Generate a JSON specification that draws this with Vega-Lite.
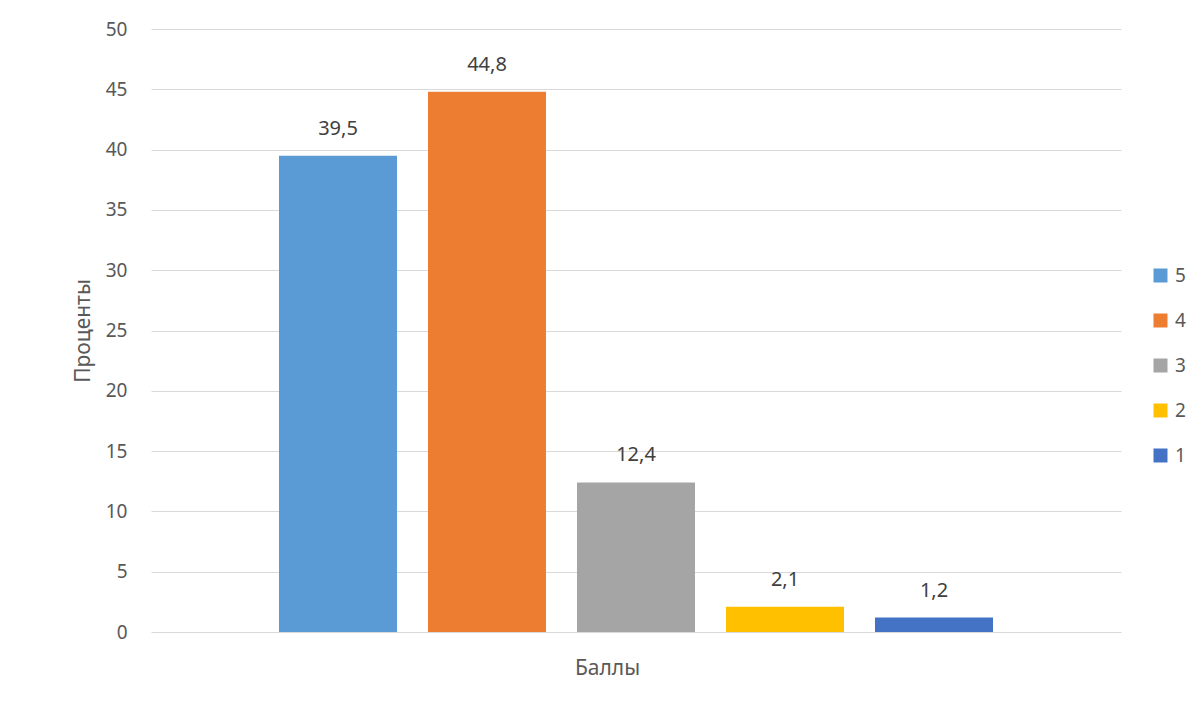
{
  "$schema": "https://vega.github.io/schema/vega-lite/v6.json",
  "autosize": "none",
  "width": 970,
  "height": 603,
  "padding": {"left": 151, "top": 29, "right": 76, "bottom": 82},
  "background": "white",
  "config": {
    "font": "Noto Sans",
    "view": {"stroke": null},
    "locale": {"number": {"decimal": ",", "thousands": " ", "grouping": [3], "currency": ["", ""]}}
  },
  "data": {
    "values": [
      {"grade": "5", "percent": 39.5},
      {"grade": "4", "percent": 44.8},
      {"grade": "3", "percent": 12.4},
      {"grade": "2", "percent": 2.1},
      {"grade": "1", "percent": 1.2}
    ]
  },
  "encoding": {
    "x": {
      "field": "grade",
      "type": "nominal",
      "sort": ["5", "4", "3", "2", "1"],
      "scale": {"paddingInner": 0.208, "paddingOuter": 0.859},
      "axis": {
        "title": "Баллы",
        "labels": false,
        "ticks": false,
        "domain": false,
        "titleFontSize": 21,
        "titleFontWeight": "normal",
        "titleColor": "#595959",
        "titleX": 456,
        "titleY": 36,
        "titleBaseline": "middle"
      }
    },
    "y": {
      "field": "percent",
      "type": "quantitative",
      "scale": {"domain": [0, 50]},
      "axis": {
        "title": "Проценты",
        "values": [0, 5, 10, 15, 20, 25, 30, 35, 40, 45, 50],
        "ticks": false,
        "domain": false,
        "gridColor": "#D9D9D9",
        "gridWidth": 1,
        "labelFontSize": 19,
        "labelColor": "#595959",
        "labelPadding": 24,
        "titleFontSize": 21,
        "titleFontWeight": "normal",
        "titleColor": "#595959",
        "titlePadding": 12
      }
    }
  },
  "layer": [
    {
      "mark": {"type": "bar"},
      "encoding": {
        "color": {
          "field": "grade",
          "type": "nominal",
          "sort": ["5", "4", "3", "2", "1"],
          "scale": {
            "domain": ["5", "4", "3", "2", "1"],
            "range": ["#5B9BD5", "#ED7D31", "#A5A5A5", "#FFC000", "#4472C4"]
          },
          "legend": {
            "title": null,
            "orient": "none",
            "legendX": 1000,
            "legendY": 237,
            "symbolType": "square",
            "symbolSize": 196,
            "symbolStrokeWidth": 0,
            "labelFontSize": 19,
            "labelColor": "#595959",
            "labelOffset": 5,
            "rowPadding": 25
          }
        }
      }
    },
    {
      "mark": {"type": "text", "dy": -27, "fontSize": 20, "color": "#404040"},
      "encoding": {
        "text": {"field": "percent", "type": "quantitative", "format": ".1f"}
      }
    }
  ]
}
